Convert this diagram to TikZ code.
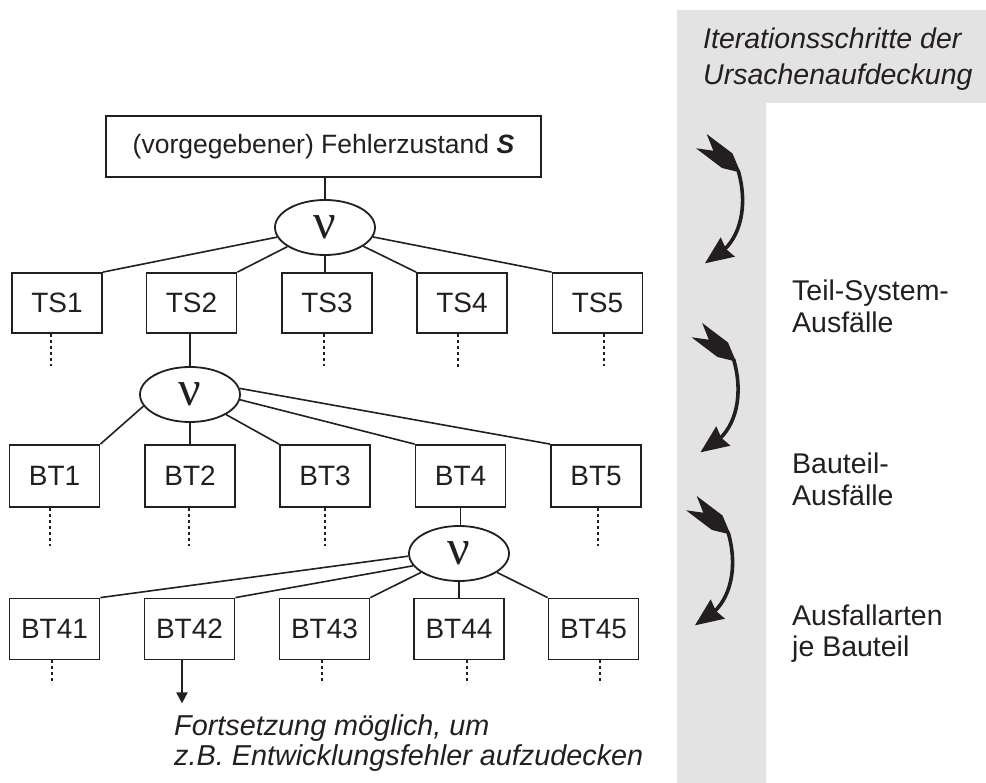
\documentclass[tikz,border=0pt]{standalone}
\usepackage{fontspec}
\setmainfont{Liberation Sans}
\newfontfamily\nufont{Liberation Serif}
\usetikzlibrary{arrows.meta,shapes.geometric}
\definecolor{ink}{HTML}{231F20}
\definecolor{band}{HTML}{E3E3E3}

\tikzset{
  pics/iterarrow/.style={code={
    % notched tail
    \fill[ink] (706.7,134) -- (732.5,153.5) -- (740.5,172.5) -- (722,168)
               -- (696,148.3) -- (713.3,150.7) -- cycle;
    % curved shaft
    \draw[ink,line width=3.6pt] (738,170) .. controls (747,200) and (743,232) .. (724,250);
    % head
    \fill[ink] (705,263.3) -- (720.7,237.3) -- (726,249) -- (735,256.7) -- cycle;
  }}
}

\begin{document}
\begin{tikzpicture}[x=1pt,y=-1pt,
  box/.style={draw=ink,line width=1.8pt,minimum width=90pt,minimum height=61pt,
    inner sep=0pt,text=ink,font=\fontsize{28}{32}\selectfont},
  orgate/.style={ellipse,draw=ink,line width=1.8pt,minimum width=100pt,
    minimum height=55pt,inner sep=0pt,text=ink,font=\nufont\fontsize{50}{50}\selectfont},
  link/.style={draw=ink,line width=1.6pt},
  cont/.style={draw=ink,line width=1.8pt,dash pattern=on 3pt off 3pt},
  lbl/.style={anchor=base west,align=left,inner sep=0pt,text=ink,
    font=\fontsize{28.5}{32.5}\selectfont},
]
\useasboundingbox (0,0) rectangle (986,783);

% iteration band
\fill[band] (677,10) -- (986,10) -- (986,103) -- (766,103) -- (766,783)
            -- (677,783) -- cycle;

% multi-line labels are placed by the baseline of their last line
\node[lbl,font=\itshape\fontsize{28.5}{36}\selectfont] (title) at (703,85)
  {Iterationsschritte der\\Ursachenaufdeckung};
\node[lbl] (lvl1) at (792,333) {Teil-System-\\Ausfälle};
\node[lbl] (lvl2) at (792,506) {Bauteil-\\Ausfälle};
\node[lbl,font=\fontsize{28.5}{31.7}\selectfont] (lvl3) at (792,656.7) {Ausfallarten\\je Bauteil};

\pic at (0,0) {iterarrow};
\pic at (-4.5,189) {iterarrow};
\pic at (-10,362) {iterarrow};

% top event
\node[box,minimum width=435pt] (top) at (323.5,146.5)
  {\fontsize{26.5}{30}\selectfont (vorgegebener) Fehlerzustand \textbf{\textit{S}}};
\node[orgate] (e1) at (325,227.5) {ν};

% sub-systems
\node[box,minimum height=60pt] (ts1) at (57,303) {TS1};
\node[box,minimum height=60pt] (ts2) at (191.5,303) {TS2};
\node[box,minimum height=60pt] (ts3) at (327,303) {TS3};
\node[box,minimum height=60pt] (ts4) at (462,303) {TS4};
\node[box,minimum height=60pt] (ts5) at (597.5,303) {TS5};

\node[orgate] (e2) at (190,394.5) {ν};

% components
\node[box,minimum height=62pt] (bt1) at (54.5,476) {BT1};
\node[box,minimum height=62pt] (bt2) at (190,476) {BT2};
\node[box,minimum height=62pt] (bt3) at (325,476) {BT3};
\node[box,minimum height=62pt] (bt4) at (460.5,476) {BT4};
\node[box,minimum height=62pt] (bt5) at (596,476) {BT5};

\node[orgate] (e3) at (459,553.5) {ν};

% failure modes of BT4
\node[box] (bt41) at (54.5,629) {BT41};
\node[box] (bt42) at (189.5,629) {BT42};
\node[box] (bt43) at (324.5,629) {BT43};
\node[box] (bt44) at (459,629) {BT44};
\node[box] (bt45) at (593.5,629) {BT45};

% gate connections
\draw[link] (e1.north) -- (e1.north |- top.south);
\draw[link] (e1) -- (ts1.north east);
\draw[link] (e1) -- (ts2.north east);
\draw[link] (e1.south) -- (e1.south |- ts3.north);
\draw[link] (e1) -- (ts4.north west);
\draw[link] (e1) -- (ts5.north west);

\draw[link] (e2.north) -- (e2.north |- ts2.south);
\draw[link] (e2.194) -- (bt1.north east);
\draw[link] (e2.south) -- (e2.south |- bt2.north);
\draw[link] (e2) -- (bt3.north west);
\draw[link] (e2.354) -- (bt4.north west);
\draw[link] (e2.7) -- (bt5.north west);

\draw[link] (bt4.south) -- (bt4.south |- e3.north);
\draw[link] (e3.183) -- (bt41.north east);
\draw[link] (e3.195) -- (bt42.north east);
\draw[link] (e3) -- (bt43.north east);
\draw[link] (e3.south) -- (e3.south |- bt44.north);
\draw[link] (e3) -- (bt45.north west);

% continuation marks
\draw[cont] ([xshift=-6pt]ts1.south) -- ++(0,32);
\draw[cont] ([xshift=-3pt]ts3.south) -- ++(0,32);
\draw[cont] ([xshift=-4pt]ts4.south) -- ++(0,33);
\draw[cont] ([xshift=6.5pt]ts5.south) -- ++(0,32);
\draw[cont] ([xshift=-4.5pt]bt1.south) -- ++(0,38);
\draw[cont] ([xshift=-1pt]bt2.south) -- ++(0,38);
\draw[cont] (bt3.south) -- ++(0,38);
\draw[cont] ([xshift=2pt]bt5.south) -- ++(0,38);
\draw[cont] ([xshift=-2.5pt]bt41.south) -- ++(0,24);
\draw[cont] ([xshift=-2.5pt]bt43.south) -- ++(0,24);
\draw[cont] ([xshift=8pt]bt44.south) -- ++(0,24);
\draw[cont] ([xshift=6.5pt]bt45.south) -- ++(0,24);

\draw[ink,line width=2pt,-{Triangle[length=11pt,width=11pt]}]
  ([xshift=-7.5pt]bt42.south) -- ++(0,43);

\node[lbl,font=\itshape\fontsize{28.8}{30}\selectfont] (note) at (174,765)
  {Fortsetzung möglich, um\\z.B. Entwicklungsfehler aufzudecken};
\end{tikzpicture}
\end{document}
